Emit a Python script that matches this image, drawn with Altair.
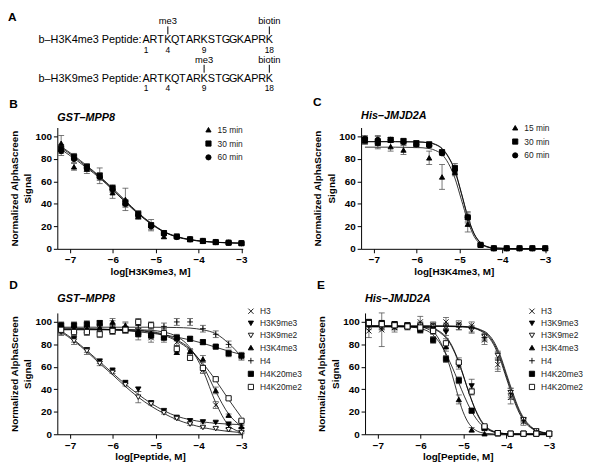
import altair as alt
import pandas as pd

FONT = "Liberation Sans"

# ---------------- Panel A ----------------
SEQ = list("ARTKQTARKSTGGKAPRK")
SEQ_POS = list(range(1, 19))
A_ROWS = [1, 2]
A_PREFIX = ["b–H3K4me3 Peptide:", "b–H3K9me3 Peptide:"]
A_NUM_POS = [1, 4, 9, 18]
A_MOD_ROW = [1, 1, 2, 2]
A_MOD_POS = [4, 18, 9, 18]
A_MOD_TXT = ["me3", "biotin", "me3", "biotin"]

# ---------------- shared x (log concentration) ----------------
XS = [-7.21, -6.91, -6.61, -6.31, -6.01, -5.71, -5.41, -5.11, -4.81, -4.51, -4.20, -3.90, -3.60, -3.30, -3.00]

# ---------------- Panel B : GST-MPP8 / H3K9me3 ----------------
B_NAMES = ["15 min", "30 min", "60 min"]
B15 = [94, 73, 71, 65, 50, 44, 29, 21, 11, 11, 8.5, 7, 6, 5.5, 5]
B30 = [89, 82, 73, 65, 54, 41, 31, 21, 14, 11, 8.5, 7, 6, 5.5, 5]
B60 = [87, 80, 72, 64, 53, 40, 30, 20, 14, 10.5, 8.5, 7, 6, 5.5, 5]
B15_ERR = [7, 3, 4, 3, 5, 10, 3, 2, 2, 1, 1, 1, 1, 1, 1]
B30_ERR = [4, 3, 3, 7, 3, 3, 3, 5, 2, 1, 1, 1, 1, 1, 1]
B60_ERR = [4, 3, 3, 3, 3, 3, 3, 3, 2, 1, 1, 1, 1, 1, 1]
CB_X = XS
CB15 = [88.5, 80.5, 72, 63, 52.5, 41.5, 31, 22, 15, 10.5, 8, 6.5, 5.8, 5.3, 5]
CB30 = [91, 83, 74, 64.5, 54, 43, 32, 23, 15.5, 11, 8.3, 6.8, 5.9, 5.4, 5.1]
CB60 = [90, 82, 73, 64, 53, 42, 31.5, 22.5, 15.2, 10.7, 8.2, 6.7, 5.8, 5.3, 5]

# ---------------- Panel C : His-JMJD2A / H3K4me3 ----------------
C15 = [96, 94, 91, 88, 93, 81, 64, 68, 22, 3.5, 0.5, 0.5, 0.5, 0.5, 0.5]
C30 = [97, 95, 97, 96, 94, 93, 86, 72, 28, 3.5, 0.5, 0.5, 0.5, 0.5, 0.5]
C60 = [98, 97, 97, 95, 93, 92, 85, 70, 28, 3.5, 0.5, 0.5, 0.5, 0.5, 0.5]
C15_ERR = [3, 4, 4, 4, 3, 6, 11, 3, 7, 1, 0, 0, 0, 0, 0]
C30_ERR = [3, 6, 2, 2, 2, 2, 2, 4, 5, 1, 0, 0, 0, 0, 0]
C60_ERR = [3, 3, 2, 2, 2, 2, 2, 3, 4, 1, 0, 0, 0, 0, 0]
CC_X = [-7.21, -6.5, -6.0, -5.71, -5.56, -5.41, -5.26, -5.11, -4.96, -4.81, -4.66, -4.51, -4.36, -4.20, -3.6, -3.0]
CC15 = [90.5, 90.5, 90.2, 89.3, 87.5, 84, 76, 63, 44, 25, 11, 4.3, 1.6, 0.6, 0.2, 0.2]
CC30 = [95.5, 95.5, 95.3, 94.5, 93, 89.5, 82, 70, 50, 29, 13.5, 5.5, 2, 0.7, 0.2, 0.2]
CC60 = [95.3, 95.3, 95.1, 94.3, 92.7, 89, 81.5, 69.5, 49.5, 28.5, 13.2, 5.4, 2, 0.7, 0.2, 0.2]

# ---------------- Panels D/E : peptide competition ----------------
P_NAMES = ["H3", "H3K9me3", "H3K9me2", "H3K4me3", "H4", "H4K20me3", "H4K20me2"]

D_H3 = [93, 93, 93, 94, 93, 93, 92, 86, 87, 82, 73, 57, 26, 7, 4]
D_K9ME3 = [92, 85, 75, 65, 57, 46, 40, 28, 21, 15, 12, 11, 10.5, 9, 10]
D_K9ME2 = [91, 83, 74, 63, 55, 44, 33, 27, 19, 14, 9, 6, 5, 4, 1.5]
D_K4ME3 = [95, 93, 94, 95, 100, 97, 92, 90, 88, 73, 74, 67, 39, 17, 7]
D_H4 = [96, 96, 96, 98, 98, 96, 97, 97, 96, 100, 100, 94, 89, 80, 69]
D_K20ME3 = [97, 97, 98, 99, 93, 93, 89, 88, 86, 86, 85, 82, 78, 72, 70]
D_K20ME2 = [93, 91, 91, 89, 92, 93, 100, 97, 90, 76, 68, 59, 49, 32, 12]
D_H3_ERR = [3, 3, 3, 3, 3, 3, 3, 4, 3, 3, 3, 3, 3, 2, 1]
D_K9ME3_ERR = [3, 3, 2, 2, 1, 1, 2, 1, 1, 1, 1, 1, 1, 1, 1]
D_K9ME2_ERR = [3, 3, 3, 2, 1, 1, 5, 1, 1, 1, 1, 1, 1, 1, 1]
D_K4ME3_ERR = [2, 2, 3, 3, 3, 3, 3, 3, 3, 2, 2, 3, 3, 1, 1]
D_H4_ERR = [3, 3, 3, 3, 3, 3, 3, 3, 3, 3, 3, 3, 3, 3, 3]
D_K20ME3_ERR = [3, 3, 3, 2, 4, 3, 5, 3, 4, 3, 2, 2, 1, 3, 3]
D_K20ME2_ERR = [3, 3, 3, 3, 3, 3, 3, 2, 4, 3, 2, 2, 1, 1, 1]
CD_X = XS
CD_H3 = [93.5, 93.5, 93.5, 93.5, 93.4, 93.3, 93, 92.5, 91, 87, 77, 57, 28, 8, 2]
CD_K9ME3 = [92, 84, 74.5, 64.5, 54.5, 44.5, 35.5, 27.5, 21, 16, 13, 11, 9.8, 9, 8.6]
CD_K9ME2 = [91, 83, 73.5, 63, 53, 42.5, 33, 25, 18.5, 13, 9, 6, 4, 2.5, 1.5]
CD_K4ME3 = [93.5, 93.5, 93.5, 93.4, 93.2, 93, 92.5, 91.5, 89, 84, 76, 61, 38, 18, 7]
CD_H4 = [95.3, 95.3, 95.3, 95.3, 95.3, 95.3, 95.3, 95.3, 95.2, 95, 94.5, 93, 89.5, 81, 69]
CD_K20ME3 = [94.5, 94.3, 94, 93.6, 93, 92.2, 91.2, 90, 88.5, 86.5, 84, 81, 77.5, 74, 71]
CD_K20ME2 = [93, 93, 93, 93, 92.8, 92.5, 92, 91, 88, 83, 75, 63, 48, 31, 15]

E_H3 = [92, 93, 95, 96, 100, 97, 100, 98, 97, 84, 62, 33, 11, 2, 0.5]
E_K9ME3 = [98, 97, 97, 96, 96, 94, 91, 61, 43, 6, 1, 0.5, 0.5, 0.5, 0.5]
E_K9ME2 = [97, 96, 96, 96, 97, 96, 95, 96, 93, 87, 70, 37, 13, 3, 0.5]
E_K4ME3 = [99, 98, 97, 96, 94, 93, 78, 31, 4, 0.5, 0.5, 0.5, 0.5, 0.5, 0.5]
E_H4 = [96, 96, 96, 96, 96, 96, 96, 96, 94, 86, 66, 36, 12, 2, 0.5]
E_K20ME3 = [100, 99, 98, 97, 93, 84, 67, 48, 21, 5.5, 1, 0.5, 0.5, 0.5, 0.5]
E_K20ME2 = [99, 98, 97, 96, 95, 92, 81, 64, 38, 7, 1, 0.5, 0.5, 0.5, 0.5]
E_H3_ERR = [6, 15, 4, 3, 5, 3, 4, 3, 3, 4, 6, 6, 3, 1, 0]
E_K9ME3_ERR = [2, 3, 3, 2, 3, 3, 3, 3, 6, 2, 1, 0, 0, 0, 0]
E_K9ME2_ERR = [2, 3, 3, 2, 3, 3, 3, 3, 3, 3, 3, 4, 2, 1, 0]
E_K4ME3_ERR = [2, 2, 2, 2, 3, 3, 4, 4, 2, 0, 0, 0, 0, 0, 0]
E_H4_ERR = [3, 3, 3, 3, 3, 3, 3, 3, 3, 3, 8, 5, 2, 1, 0]
E_K20ME3_ERR = [2, 2, 2, 2, 3, 3, 3, 3, 2, 1, 0, 0, 0, 0, 0]
E_K20ME2_ERR = [2, 2, 2, 2, 3, 3, 4, 4, 3, 1, 0, 0, 0, 0, 0]
CE_X = [-7.21, -6.5, -6.0, -5.8, -5.65, -5.5, -5.35, -5.2, -5.05, -4.9, -4.75, -4.6, -4.45,
        -4.3, -4.15, -4.0, -3.85, -3.7, -3.55, -3.4, -3.25, -3.0]
CE_H3 = [96, 96, 96, 96, 96, 96, 95.9, 95.8, 95.6, 95.2, 94.3, 92, 88, 80, 67, 50, 33, 19, 10, 5, 2.3, 0.6]
CE_K9ME3 = [96, 96, 95.7, 95, 93.5, 90, 84, 73, 58, 40, 24, 12, 5.5, 2.3, 1, 0.4, 0.2, 0.2, 0.2, 0.2, 0.2, 0.2]
CE_K9ME2 = [96.5, 96.5, 96.5, 96.5, 96.5, 96.5, 96.4, 96.3, 96.1, 95.8, 95, 93, 90, 83, 71, 54, 37, 22, 12, 6, 3, 0.8]
CE_K4ME3 = [96, 96, 95.5, 93, 89, 79, 64, 44, 24, 11, 4.5, 1.6, 0.7, 0.3, 0.2, 0.2, 0.2, 0.2, 0.2, 0.2, 0.2, 0.2]
CE_H4 = [96.2, 96.2, 96.2, 96.2, 96.2, 96.2, 96.1, 96, 95.8, 95.5, 94.6, 92.5, 89, 81.5, 69, 52, 35, 20.5, 11, 5.5, 2.6, 0.7]
CE_K20ME3 = [96.5, 96.3, 94, 91, 86, 78, 67, 54, 40, 27, 16.5, 9, 4.5, 2, 1, 0.5, 0.3, 0.2, 0.2, 0.2, 0.2, 0.2]
CE_K20ME2 = [95.5, 95.5, 95.2, 94.5, 93, 89, 83, 72, 57, 40, 24.5, 13, 6, 2.7, 1.1, 0.5, 0.3, 0.2, 0.2, 0.2, 0.2, 0.2]

X_PATH = "M-1,-1L1,1M-1,1L1,-1"
PLUS_PATH = "M-1.1,0L1.1,0M0,-1.1L0,1.1"
BC_SHAPES = ["triangle-up", "square", "circle"]
BC_FILLS = ["black", "black", "black"]
DE_SHAPES = [X_PATH, "triangle-down", "triangle-down", "triangle-up", PLUS_PATH, "square", "square"]
DE_FILLS = ["white", "black", "white", "black", "white", "black", "white"]

XDOM = [-7.3, -2.97]
YDOM = [0, 108]
PW, PH = 188, 123


def long_df(xs, names, arrays):
    rows = []
    for n, arr in zip(names, arrays):
        for x, v in zip(xs, arr):
            rows.append({"x": x, "y": v, "s": n})
    return pd.DataFrame(rows)


def err_df(xs, names, vals, errs):
    rows = []
    for n, arr, e in zip(names, vals, errs):
        for x, v, d in zip(xs, arr, e):
            if d > 0:
                rows.append({"x": x, "lo": v - d, "hi": v + d, "s": n})
    return pd.DataFrame(rows)


def indep(ch):
    return ch.resolve_scale(shape="independent", fill="independent", stroke="independent").resolve_legend(
        shape="independent", fill="independent", stroke="independent")


def panel(letter, name, xtitle, ytitle, names, vals, errs, cxs, curves, shapes, fills,
          lx, ly, lfont, lpad):
    pts = long_df(XS, names, vals)
    ers = err_df(XS, names, vals, errs)
    crv = long_df(cxs, names, curves)
    xsc = alt.Scale(domain=XDOM, nice=False, zero=False)
    ysc = alt.Scale(domain=YDOM, nice=False, zero=False)
    xax = alt.Axis(values=[-7, -6, -5, -4, -3], format="d", title=xtitle)
    yax = alt.Axis(values=[0, 20, 40, 60, 80, 100], title=ytitle)
    X = alt.X("x:Q", scale=xsc, axis=xax)
    legend = alt.Legend(orient="none", legendX=lx, legendY=ly, labelFont=FONT, labelFontSize=lfont,
                        labelColor="#222", symbolSize=28, symbolStrokeWidth=0.9, rowPadding=lpad,
                        padding=0, labelOffset=5)
    line = alt.Chart(crv).mark_line(color="black", strokeWidth=0.8, interpolate="monotone").encode(
        x=X, y=alt.Y("y:Q", scale=ysc, axis=yax), detail="s:N")
    rule = alt.Chart(ers).mark_rule(color="#555", strokeWidth=0.8, opacity=1).encode(
        x=X, y=alt.Y("lo:Q", scale=ysc, axis=yax), y2="hi:Q")
    cap_hi = alt.Chart(ers).mark_tick(orient="horizontal", size=6, thickness=0.8, color="#555", opacity=1).encode(
        x=X, y=alt.Y("hi:Q", scale=ysc, axis=yax))
    cap_lo = alt.Chart(ers).mark_tick(orient="horizontal", size=6, thickness=0.8, color="#555", opacity=1).encode(
        x=X, y=alt.Y("lo:Q", scale=ysc, axis=yax))
    pt = alt.Chart(pts).mark_point(size=28, strokeWidth=0.9, opacity=1).encode(
        x=X, y=alt.Y("y:Q", scale=ysc, axis=yax),
        shape=alt.Shape("s:N", scale=alt.Scale(domain=names, range=shapes), legend=legend, title=None),
        fill=alt.Fill("s:N", scale=alt.Scale(domain=names, range=fills), legend=legend, title=None),
        stroke=alt.Stroke("s:N", scale=alt.Scale(domain=names, range=["black"] * len(names)),
                          legend=legend, title=None))
    lay = alt.layer(line, rule, cap_hi, cap_lo, pt).properties(
        width=PW, height=PH,
        title=alt.Title(name, anchor="start", frame="group", font=FONT, fontSize=11,
                        fontStyle="italic", fontWeight="bold", offset=3, color="black"))
    lay = indep(lay)
    return indep(alt.vconcat(lay, title=alt.Title(letter, anchor="start", frame="bounds", font=FONT,
                                                  fontSize=12, fontWeight="bold", offset=1,
                                                  color="black")))


YT = ["Normalized AlphaScreen", "Signal"]
YT_E = ["Normailzed AlphaScreen", "Signal"]

pB = panel("B", "GST–MPP8", "log[H3K9me3, M]", YT, B_NAMES, [B15, B30, B60],
           [B15_ERR, B30_ERR, B60_ERR], CB_X, [CB15, CB30, CB60], BC_SHAPES, BC_FILLS,
           149, -2, 8.5, 4)
pC = panel("C", "His–JMJD2A", "log[H3K4me3, M]", YT, B_NAMES, [C15, C30, C60],
           [C15_ERR, C30_ERR, C60_ERR], CC_X, [CC15, CC30, CC60], BC_SHAPES, BC_FILLS,
           152, -4, 8.5, 4)
pD = panel("D", "GST–MPP8", "log[Peptide, M]", YT, P_NAMES,
           [D_H3, D_K9ME3, D_K9ME2, D_K4ME3, D_H4, D_K20ME3, D_K20ME2],
           [D_H3_ERR, D_K9ME3_ERR, D_K9ME2_ERR, D_K4ME3_ERR, D_H4_ERR, D_K20ME3_ERR, D_K20ME2_ERR],
           CD_X, [CD_H3, CD_K9ME3, CD_K9ME2, CD_K4ME3, CD_H4, CD_K20ME3, CD_K20ME2],
           DE_SHAPES, DE_FILLS, PW + 4, -6, 8.5, 3.3)
pE = panel("E", "His–JMJD2A", "log[Peptide, M]", YT_E, P_NAMES,
           [E_H3, E_K9ME3, E_K9ME2, E_K4ME3, E_H4, E_K20ME3, E_K20ME2],
           [E_H3_ERR, E_K9ME3_ERR, E_K9ME2_ERR, E_K4ME3_ERR, E_H4_ERR, E_K20ME3_ERR, E_K20ME2_ERR],
           CE_X, [CE_H3, CE_K9ME3, CE_K9ME2, CE_K4ME3, CE_H4, CE_K20ME3, CE_K20ME2],
           DE_SHAPES, DE_FILLS, 165, -6, 8.5, 3.3)

# ---------------- Panel A chart ----------------
letters_df = pd.DataFrame([{"row": r, "pos": p, "t": c} for r in A_ROWS for p, c in zip(SEQ_POS, SEQ)])
prefix_df = pd.DataFrame({"row": A_ROWS, "pos": [0.5, 0.5], "t": A_PREFIX})
nums_df = pd.DataFrame([{"row": r, "pos": p, "t": str(p)} for r in A_ROWS for p in A_NUM_POS])
mods_df = pd.DataFrame({"row": A_MOD_ROW, "pos": A_MOD_POS, "t": A_MOD_TXT})

XA = alt.X("pos:Q", scale=alt.Scale(domain=[-11.25, 29.57], nice=False, zero=False), axis=None)
YA = alt.Y("row:Q", scale=alt.Scale(domain=[0.55, 2.35], nice=False, zero=False, reverse=True), axis=None)

a_letters = alt.Chart(letters_df).mark_text(font=FONT, fontSize=11, align="center", baseline="middle",
                                            color="black").encode(x=XA, y=YA, text="t:N")
a_prefix = alt.Chart(prefix_df).mark_text(font=FONT, fontSize=11, align="right", baseline="middle",
                                          color="black", dx=-1).encode(x=XA, y=YA, text="t:N")
a_nums = alt.Chart(nums_df).mark_text(font=FONT, fontSize=8.5, align="center", baseline="middle",
                                      color="black", dy=10).encode(x=XA, y=YA, text="t:N")
a_mods = alt.Chart(mods_df).mark_text(font=FONT, fontSize=9.5, align="center", baseline="middle",
                                      color="black", dy=-19).encode(x=XA, y=YA, text="t:N")
a_ticks = alt.Chart(mods_df).mark_rule(color="black", strokeWidth=1, yOffset=-14, y2Offset=-6).encode(
    x=XA, y=YA, y2="row:Q")

pA = alt.layer(a_ticks, a_letters, a_prefix, a_nums, a_mods).properties(
    width=300, height=70,
    title=alt.Title("A", anchor="start", frame="group", font=FONT, fontSize=12, fontWeight="bold",
                    offset=-8, dx=-50, color="black"))

row1 = indep(alt.hconcat(pB, pC, spacing=66))
row2 = indep(alt.hconcat(pD, pE, spacing=14))

chart = indep(alt.concat(pA, row1, row2, columns=1, align="none", spacing=3)).properties(
    padding=0
).configure_view(
    stroke=None
).configure_axis(
    domainColor="black", tickColor="black", labelColor="black", titleColor="black", grid=False,
    tickSize=4, labelFont=FONT, titleFont=FONT, labelFontSize=10, labelFontWeight="bold",
    titleFontSize=10, titleFontWeight="bold", domainWidth=1, tickWidth=1, labelPadding=2
).configure_axisY(titlePadding=2, titleLineHeight=14).configure_axisX(titlePadding=2)

chart.save("out.html", embed_options={"renderer": "svg", "actions": False})
